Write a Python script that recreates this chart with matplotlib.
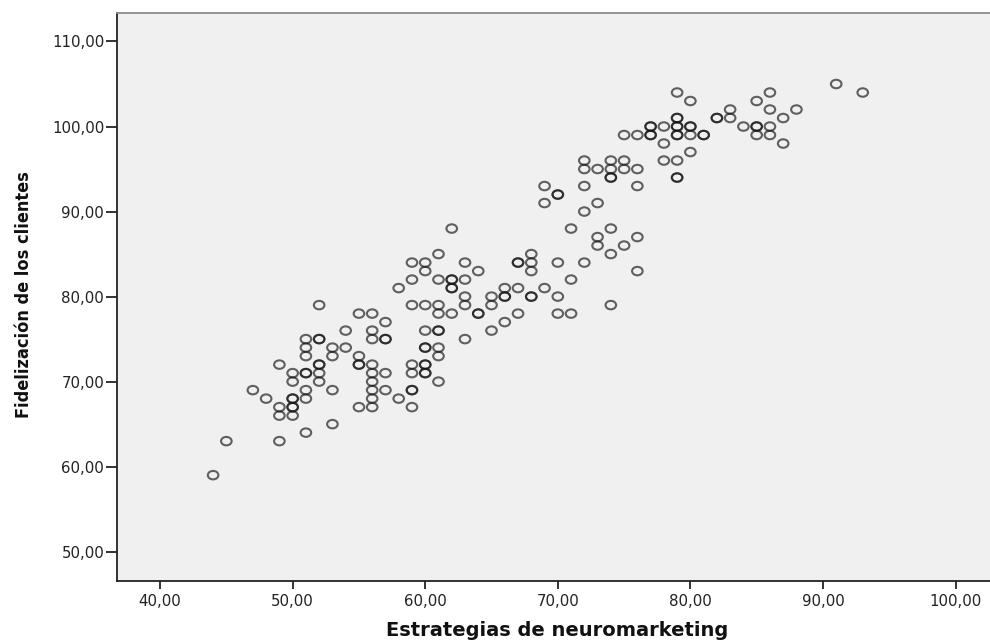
import numpy as np
import matplotlib.pyplot as plt
from matplotlib.path import Path
from matplotlib.transforms import Affine2D
from matplotlib.ticker import FuncFormatter

# Estrategias de neuromarketing (x) y Fidelización de los clientes (y)
estrategias = [
    44, 45, 49, 51, 53, 47, 48, 49, 49, 50, 50, 50, 50, 50,
    49, 50, 50, 51, 51, 51, 51, 51, 51, 51,
    52, 52, 52, 52, 52, 52, 52, 53, 53, 53, 54, 54,
    55, 55, 55, 55, 55, 56, 56, 56, 56, 56, 56, 56, 56, 56,
    57, 57, 57, 57, 57, 58, 58, 59, 59, 59, 59, 59, 59, 59,
    69, 73, 72, 62, 71, 74, 73, 73, 76, 75, 74, 76, 74,
    61, 59, 60, 60, 63, 64, 61, 62, 62, 62, 62, 63, 63, 63,
    61, 61, 60, 62, 64, 64, 65, 65, 66, 66, 66, 67, 67,
    68, 68, 68, 67, 68, 68, 69, 70, 70, 70, 71, 71, 72, 67, 66, 65, 63,
    60, 61, 61, 60, 60, 61, 61, 60, 60, 60, 60, 61,
    91, 93, 79, 80, 86, 85, 83, 83, 82, 82, 86, 88, 87, 79, 79,
    77, 77, 78, 79, 79, 80, 80,
    75, 76, 77, 77, 79, 79, 80, 81, 81,
    84, 85, 85, 86, 85, 86, 87, 78, 80, 78, 79, 79, 79,
    72, 74, 75, 72, 73, 74, 75, 76,
    74, 74, 72, 76, 69, 70, 70,
]
fidelizacion = [
    59, 63, 63, 64, 65, 69, 68, 67, 66, 68, 68, 67, 67, 66,
    72, 71, 70, 71, 71, 69, 68, 75, 74, 73,
    75, 75, 79, 72, 72, 71, 70, 74, 73, 69, 76, 74,
    78, 73, 72, 72, 67, 78, 76, 75, 72, 71, 70, 69, 68, 67,
    77, 75, 75, 71, 69, 81, 68, 82, 79, 72, 71, 69, 69, 67,
    91, 91, 90, 88, 88, 88, 87, 86, 87, 86, 85, 83, 79,
    85, 84, 84, 83, 84, 83, 82, 82, 82, 81, 81, 82, 80, 79,
    79, 78, 79, 78, 78, 78, 80, 79, 81, 80, 80, 84, 84,
    85, 84, 83, 81, 80, 80, 81, 84, 80, 78, 78, 82, 84, 78, 77, 76, 75,
    76, 76, 76, 74, 74, 74, 73, 72, 72, 71, 71, 70,
    105, 104, 104, 103, 104, 103, 102, 101, 101, 101, 102, 102, 101, 101, 101,
    100, 100, 100, 100, 100, 100, 100,
    99, 99, 99, 99, 99, 99, 99, 99, 99,
    100, 100, 100, 100, 99, 99, 98, 98, 97, 96, 96, 94, 94,
    96, 96, 96, 95, 95, 95, 95, 95,
    94, 94, 93, 93, 93, 92, 92,
]

x_ticks = [40, 50, 60, 70, 80, 90, 100]
y_ticks = [50, 60, 70, 80, 90, 100, 110]

# marcador circular algo achatado, como en el gráfico de SPSS
anillo = Path.unit_circle().transformed(Affine2D().scale(1.0, 0.8))

fig = plt.figure(figsize=(9.9, 6.42), dpi=100)
ax = fig.add_axes([0.1179, 0.095, 0.8821, 0.8854])
ax.set_facecolor('#f0f0f0')

ax.scatter(estrategias, fidelizacion, s=58, marker=anillo,
           facecolors='none', edgecolors=(0.08, 0.08, 0.08, 0.66),
           linewidths=1.5, zorder=3)

ax.set_xlim(36.73, 102.6)
ax.set_ylim(46.55, 113.4)
ax.set_xticks(x_ticks)
ax.set_yticks(y_ticks)

coma = FuncFormatter(lambda v, pos: f'{v:.2f}'.replace('.', ','))
ax.xaxis.set_major_formatter(coma)
ax.yaxis.set_major_formatter(coma)

ax.tick_params(axis='x', length=6, width=1.3, pad=3, labelsize=10.8,
               colors='#222222', labelcolor='#222222')
ax.tick_params(axis='y', length=8, width=1.3, pad=1, labelsize=10.8,
               colors='#222222', labelcolor='#222222')

for lado in ['left', 'bottom']:
    ax.spines[lado].set_color('#222222')
    ax.spines[lado].set_linewidth(1.3)
ax.spines['top'].set_color('#8a8a8a')
ax.spines['top'].set_linewidth(1.3)
ax.spines['right'].set_visible(False)

# títulos de los ejes
fig.text(0.5626, 0.0185, 'Estrategias de neuromarketing', ha='center',
         va='center', fontsize=14, fontweight='bold', color='#111111')
fig.text(0.0245, 0.5413, 'Fidelización de los clientes', rotation=90,
         ha='center', va='center', fontsize=13, fontweight='bold',
         fontstretch='condensed', family=['DejaVu Sans'], color='#111111')

plt.savefig('out.png', dpi=100)
